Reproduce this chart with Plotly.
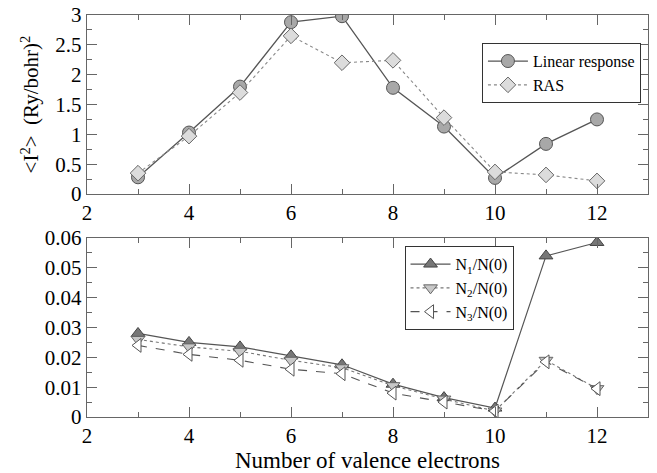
import plotly.graph_objects as go

x = [3, 4, 5, 6, 7, 8, 9, 10, 11, 12]
linear_response = [0.28, 1.03, 1.80, 2.88, 2.98, 1.78, 1.13, 0.27, 0.84, 1.25]
ras = [0.35, 0.97, 1.70, 2.65, 2.20, 2.24, 1.28, 0.37, 0.32, 0.22]
n1 = [0.0280, 0.0250, 0.0235, 0.0205, 0.0175, 0.0110, 0.0065, 0.0030, 0.0540, 0.0585]
n2 = [0.0260, 0.0235, 0.0220, 0.0190, 0.0165, 0.0105, 0.0060, 0.0020, 0.0190, 0.0095]
n3 = [0.0240, 0.0210, 0.0190, 0.0160, 0.0145, 0.0080, 0.0050, 0.0020, 0.0185, 0.0095]

FONT = "Liberation Serif, Times New Roman, serif"
AX = "#666666"

fig = go.Figure()

fig.add_trace(go.Scatter(x=x, y=linear_response, name="Linear response", mode="lines+markers",
                         line=dict(color="#555555", width=1.3),
                         marker=dict(symbol="circle", size=13, color="#a8a8a8", line=dict(color="#555555", width=1)),
                         xaxis="x", yaxis="y", legend="legend"))
fig.add_trace(go.Scatter(x=x, y=ras, name="RAS", mode="lines+markers",
                         line=dict(color="#888888", width=1.1, dash="dot"),
                         marker=dict(symbol="diamond", size=12, color="#dcdcdc", line=dict(color="#666666", width=1)),
                         xaxis="x", yaxis="y", legend="legend"))

fig.add_trace(go.Scatter(x=x, y=n1, name="N<sub>1</sub>/N(0)", mode="lines+markers",
                         line=dict(color="#555555", width=1.2),
                         marker=dict(symbol="triangle-up", size=12, color="#777777", line=dict(color="#444444", width=1)),
                         xaxis="x2", yaxis="y2", legend="legend2"))
fig.add_trace(go.Scatter(x=x, y=n2, name="N<sub>2</sub>/N(0)", mode="lines+markers",
                         line=dict(color="#777777", width=1.1, dash="dot"),
                         marker=dict(symbol="triangle-down", size=12, color="#c8c8c8", line=dict(color="#666666", width=1)),
                         xaxis="x2", yaxis="y2", legend="legend2"))
fig.add_trace(go.Scatter(x=x, y=n3, name="N<sub>3</sub>/N(0)", mode="lines+markers",
                         line=dict(color="#555555", width=1.1, dash="dash"),
                         marker=dict(symbol="triangle-left", size=12, color="white", line=dict(color="#555555", width=1)),
                         xaxis="x2", yaxis="y2", legend="legend2"))

axis_common = dict(showline=True, linecolor=AX, linewidth=1.4, mirror="allticks",
                   ticks="inside", ticklen=10, tickcolor=AX, tickwidth=1.3,
                   showgrid=False, zeroline=False, automargin=False,
                   tickfont=dict(family=FONT, size=21, color="black"))

xcommon = dict(axis_common, range=[2, 13], tickvals=[2, 4, 6, 8, 10, 12],
               minor=dict(tickvals=[3, 5, 7, 9, 11, 13], ticks="inside", ticklen=5, tickcolor=AX, tickwidth=1.3))

fig.update_layout(
    width=657, height=473,
    margin=dict(l=87, r=9, t=15, b=56),
    paper_bgcolor="white", plot_bgcolor="white",
    font=dict(family=FONT, color="black"),
    xaxis=dict(xcommon, domain=[0, 1], anchor="y"),
    yaxis=dict(axis_common, domain=[0.5547, 1], anchor="x", range=[0, 3], dtick=0.5,
               tickformat="~g",
               minor=dict(dtick=0.25, ticks="inside", ticklen=5, tickcolor=AX, tickwidth=1.3),
               title=dict(text="&lt;I<sup>2</sup>&gt;  (Ry/bohr)<sup>2</sup>",
                          font=dict(family=FONT, size=21, color="black"), standoff=10)),
    xaxis2=dict(xcommon, domain=[0, 1], anchor="y2",
                title=dict(text="Number of valence electrons", font=dict(family=FONT, size=23, color="black"), standoff=0)),
    yaxis2=dict(axis_common, domain=[0, 0.4453], anchor="x2", range=[0, 0.06], dtick=0.01,
                tickformat="~g",
                minor=dict(dtick=0.005, ticks="inside", ticklen=5, tickcolor=AX, tickwidth=1.3)),
    legend=dict(x=0.704, y=0.93, xanchor="left", yanchor="top",
                bgcolor="white", bordercolor="#333333", borderwidth=1,
                font=dict(family=FONT, size=16, color="black"),
                itemwidth=40, tracegroupgap=0),
    legend2=dict(x=0.566, y=0.425, xanchor="left", yanchor="top",
                 bgcolor="white", bordercolor="#333333", borderwidth=1,
                 font=dict(family=FONT, size=16, color="black"),
                 itemwidth=40, tracegroupgap=0),
)

fig.write_html("out.html")
